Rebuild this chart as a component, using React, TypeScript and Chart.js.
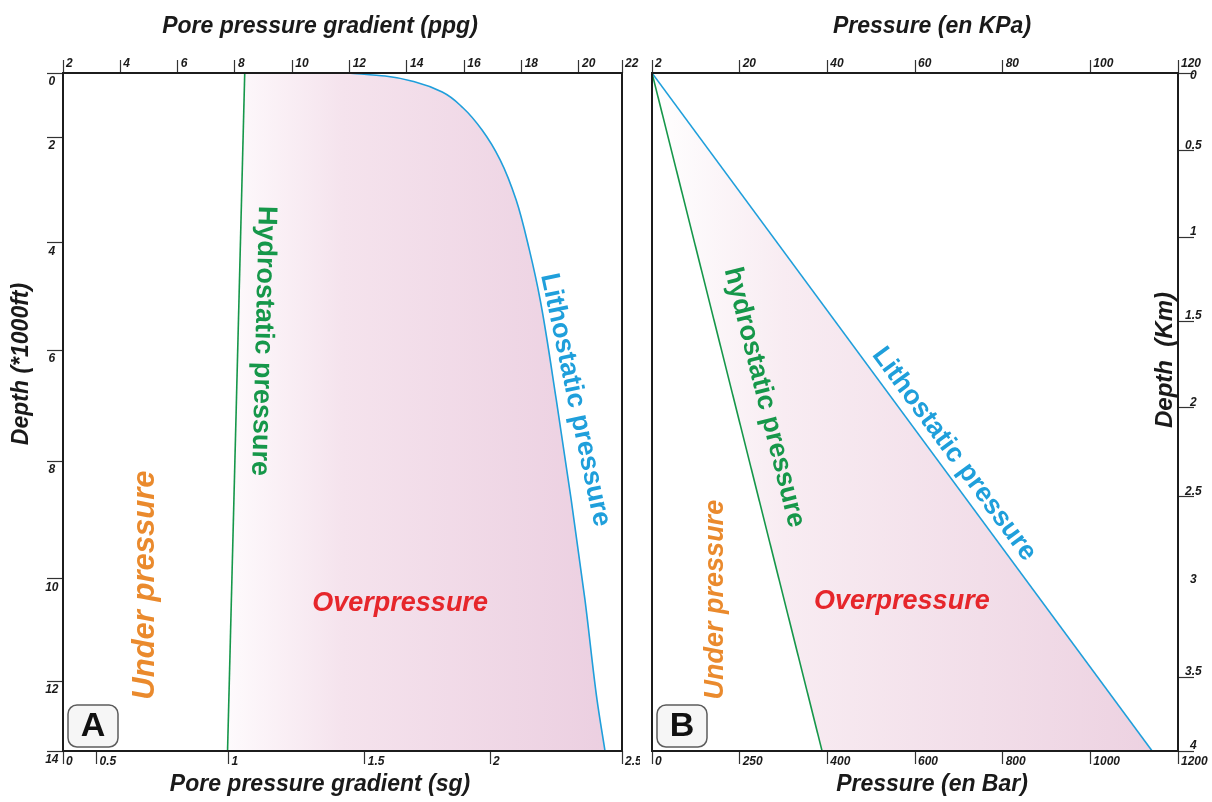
import React, { useEffect, useRef } from 'react';
import { Chart, registerables, LinearScale } from 'chart.js';

Chart.register(...registerables);

// ---------------- data: panel A (pore pressure gradient vs depth) ----------------
const lithoDepthKft = [0, 0.094, 0.281, 0.594, 1.094, 1.781, 2.43, 3.19, 4.13, 5.07, 6.9, 8.66, 10.41, 12.54, 14];
const lithostaticPpg = [11.95, 13.24, 14.29, 15.23, 15.96, 16.62, 17.25, 17.81, 18.27, 18.65, 19.21, 19.73, 20.28, 20.84, 21.21];
const hydroDepthKft = [0, 14];
const hydrostaticPpg = [8.34, 7.74];

const ppgTicks = [2, 4, 6, 8, 10, 12, 14, 16, 18, 20, 22];
const ppgTickLabels = ['2', '4', '6', '8', '10', '12', '14', '16', '18', '20', '22'];
const sgTicks = [0, 0.5, 1, 1.5, 2, 2.5];
const sgTickLabels = ['0', '0.5', '1', '1.5', '2', '2.5'];
const depthKftTicks = [0, 2, 4, 6, 8, 10, 12, 14];
const depthKftTickLabels = ['0', '2', '4', '6', '8', '10', '12', '14'];

// ---------------- data: panel B (pressure vs depth) ----------------
const depthKm = [0, 4];
const hydrostaticBar = [0, 391];
const lithostaticBar = [0, 1141];

const kpaTicks = [0, 20, 40, 60, 80, 100, 120];
const kpaTickLabels = ['2', '20', '40', '60', '80', '100', '120'];
const barTicks = [0, 250, 400, 600, 800, 1000, 1200];
const barTickLabels = ['0', '250', '400', '600', '800', '1000', '1200'];
const depthKmTicks = [0, 0.5, 1, 1.5, 2, 2.5, 3, 3.5, 4];
const depthKmTickLabels = ['0', '0.5', '1', '1.5', '2', '2.5', '3', '3.5', '4'];
const depthKmUnmarked = [3];

// ---------------- printed (non-linear) axis geometry: [value, fraction of axis] ----------------
const ppgAxisBreaks = [[2, 0], [20, 0.923], [22, 1]];
const sgAxisBreaks = [[0, 0], [0.5, 0.06], [1, 0.296], [1.5, 0.54], [2, 0.764], [2.5, 1]];
const kftAxisBreaks = [[0, 0], [2, 0.0944], [4, 0.2507], [6, 0.4086], [8, 0.5723], [10, 0.7463], [12, 0.8968], [14, 1]];
const barAxisBreaks = [[0, 0], [250, 1 / 6], [400, 2 / 6], [600, 3 / 6], [800, 4 / 6], [1000, 5 / 6], [1200, 1]];
const kmAxisBreaks = [[0, 0], [0.5, 0.115], [1, 0.242], [1.5, 0.366], [2, 0.494], [2.5, 0.625], [3, 0.755], [3.5, 0.891], [4, 1]];

// ---------------- colours / fonts ----------------
const GREEN = '#16974a';
const BLUE = '#1f9fdb';
const ORANGE = '#ea8a2d';
const RED = '#e6262b';
const INK = '#1a1a1a';
const SANS = "'Liberation Sans', Arial, sans-serif";
const NARROW = "'Liberation Sans Narrow', 'Liberation Sans', Arial, sans-serif";
const TICK_FONT = { family: NARROW, size: 12, weight: 'bold', style: 'italic' };
const TITLE_FONT = { family: SANS, size: 23, weight: 'bold', style: 'italic', lineHeight: 1 };

// ---------------- annotations (data coordinates) ----------------
const annotationsA = [
  { text: 'Hydrostatic pressure', x: 8.98, y: 5.83, alongDataset: 0, size: 27, italic: false, color: GREEN },
  { text: 'Lithostatic pressure', x: 19.87, y: 6.9, angle: 78, size: 27, italic: false, color: BLUE },
  { text: 'Under pressure', x: 4.86, y: 10.12, angle: -90, size: 31, italic: true, color: ORANGE },
  { text: 'Overpressure', x: 13.76, y: 10.49, angle: 0, size: 27, italic: true, color: RED },
];
const annotationsB = [
  { text: 'hydrostatic pressure', x: 292, y: 1.94, alongDataset: 0, size: 27, italic: false, color: GREEN },
  { text: 'Lithostatic pressure', x: 689, y: 2.26, alongDataset: 1, size: 27, italic: false, color: BLUE },
  { text: 'Under pressure', x: 180, y: 3.08, angle: -90, size: 27, italic: true, color: ORANGE },
  { text: 'Overpressure', x: 570, y: 3.09, angle: 0, size: 27, italic: true, color: RED },
];

// ---------------- piecewise-linear scale for the printed non-uniform axes ----------------
class PiecewiseScale extends LinearScale {
  static id = 'piecewise';
  static defaults = {};
  _frac(v: number): number {
    const br = (this as any).$breaks as number[][];
    if (!br) return (v - (this as any).min) / ((this as any).max - (this as any).min);
    let i = 1;
    while (i < br.length - 1 && v > br[i][0]) i++;
    const [v0, f0] = br[i - 1];
    const [v1, f1] = br[i];
    return f0 + ((v - v0) / (v1 - v0)) * (f1 - f0);
  }
  getPixelForValue(value: number) {
    if (value === null || value === undefined || Number.isNaN(value)) return NaN;
    return (this as any).getPixelForDecimal(this._frac(value));
  }
  getValueForPixel(pixel: number) {
    const d = (this as any).getDecimalForPixel(pixel);
    const br = (this as any).$breaks as number[][];
    if (!br) return super.getValueForPixel(pixel);
    let i = 1;
    while (i < br.length - 1 && d > br[i][1]) i++;
    const [v0, f0] = br[i - 1];
    const [v1, f1] = br[i];
    return v0 + ((d - f0) / (f1 - f0)) * (v1 - v0);
  }
}
Chart.register(PiecewiseScale as any);

function makeAxis(c: any) {
  const horizontal = c.axis === 'x';
  const hidden: number[] = c.unmarked || [];
  return {
    type: c.breaks ? 'piecewise' : 'linear',
    axis: c.axis,
    position: c.position,
    min: c.min,
    max: c.max,
    reverse: !!c.reverse,
    beforeUpdate: (s: any) => {
      s.$breaks = c.breaks;
    },
    afterBuildTicks: (s: any) => {
      s.ticks = c.values.map((v: number) => ({ value: v }));
    },
    afterFit: (s: any) => {
      if (horizontal) s.height = c.size;
      else s.width = c.size;
      s.paddingLeft = 0;
      s.paddingRight = 0;
      s.paddingTop = 0;
      s.paddingBottom = 0;
    },
    border: { display: false },
    grid: {
      display: true,
      drawOnChartArea: false,
      drawTicks: true,
      tickLength: c.tickLength,
      tickWidth: 1.2,
      tickColor: (ctx: any) => (ctx.tick && hidden.includes(ctx.tick.value) ? 'rgba(0,0,0,0)' : '#333'),
    },
    ticks: {
      display: true,
      autoSkip: false,
      maxRotation: 0,
      minRotation: 0,
      padding: c.padding,
      labelOffset: c.labelOffset || 0,
      align: c.align || 'center',
      crossAlign: c.crossAlign || 'near',
      font: TICK_FONT,
      color: INK,
      callback: (_v: any, i: number) => (c.format ? c.format(c.labels[i], i) : c.labels[i]),
    },
    title: { display: false },
  };
}

function spacerAxis(position: string, width: number) {
  return {
    type: 'linear',
    axis: 'y',
    position,
    min: 0,
    max: 1,
    display: true,
    border: { display: false },
    grid: { display: false },
    ticks: { display: false },
    afterFit: (s: any) => {
      s.width = width;
      s.paddingTop = 0;
      s.paddingBottom = 0;
    },
  };
}

function fillGradient(stops: [number, string][]) {
  return (c: any) => {
    const chart = c.chart;
    const a = chart.chartArea;
    if (!a) return 'rgba(0,0,0,0)';
    const g = chart.ctx.createLinearGradient(a.left, 0, a.right, 0);
    stops.forEach(([o, col]) => g.addColorStop(o, col));
    return g;
  };
}

function drawRotatedText(ctx: CanvasRenderingContext2D, text: string, x: number, y: number, angle: number, font: string, color: string) {
  ctx.save();
  ctx.translate(x, y);
  ctx.rotate(angle);
  ctx.font = font;
  ctx.fillStyle = color;
  ctx.textAlign = 'center';
  ctx.textBaseline = 'middle';
  ctx.fillText(text, 0, 0);
  ctx.restore();
}

function decorPlugin(o: any) {
  return {
    id: 'panelDecor',
    afterDatasetsDraw(chart: any) {
      const { ctx, chartArea: a } = chart;
      const xs = chart.scales[o.xScale];
      const ys = chart.scales[o.yScale];
      ctx.save();
      // frame
      ctx.strokeStyle = '#1c1c1c';
      ctx.lineWidth = 2;
      ctx.strokeRect(a.left, a.top, a.right - a.left, a.bottom - a.top);
      // in-plot labels
      o.annotations.forEach((an: any) => {
        let angle = ((an.angle || 0) * Math.PI) / 180;
        if (an.alongDataset !== undefined) {
          const pts = chart.getDatasetMeta(an.alongDataset).data;
          const p0 = pts[0];
          const p1 = pts[pts.length - 1];
          angle = Math.atan2(p1.y - p0.y, p1.x - p0.x);
        }
        const font = `${an.italic ? 'italic ' : ''}bold ${an.size}px ${SANS}`;
        drawRotatedText(ctx, an.text, xs.getPixelForValue(an.x), ys.getPixelForValue(an.y), angle, font, an.color);
      });
      // vertical axis title
      const t = o.sideTitle;
      drawRotatedText(
        ctx,
        t.text,
        t.side === 'left' ? a.left + t.dx : a.right + t.dx,
        a.top + t.dy,
        -Math.PI / 2,
        `italic bold ${t.size}px ${SANS}`,
        INK
      );
      // panel letter
      const bx = a.left + 5;
      const by = a.bottom - 46;
      ctx.beginPath();
      (ctx as any).roundRect(bx, by, 50, 42, 9);
      ctx.fillStyle = '#f6f6f6';
      ctx.fill();
      ctx.lineWidth = 1.5;
      ctx.strokeStyle = '#5c5c5c';
      ctx.stroke();
      ctx.fillStyle = '#111';
      ctx.font = `bold 34px ${SANS}`;
      ctx.textAlign = 'center';
      ctx.textBaseline = 'middle';
      ctx.fillText(o.letter, bx + 25, by + 22);
      ctx.restore();
    },
  };
}

function baseOptions(top: string, bottom: string) {
  return {
    responsive: false,
    maintainAspectRatio: false,
    animation: false,
    indexAxis: 'y',
    events: [],
    plugins: {
      legend: { display: false },
      tooltip: { enabled: false },
      title: { display: true, text: top, position: 'top', font: TITLE_FONT, color: INK, padding: { top: 15.5, bottom: 0 } },
      subtitle: { display: true, text: bottom, position: 'bottom', font: TITLE_FONT, color: INK, padding: { top: 0, bottom: 5.5 } },
    },
  };
}

function buildA(): any {
  return {
    type: 'line',
    data: {
      datasets: [
        {
          label: 'Hydrostatic pressure',
          data: hydroDepthKft.map((d, i) => ({ x: hydrostaticPpg[i], y: d })),
          xAxisID: 'x',
          yAxisID: 'y',
          borderColor: GREEN,
          borderWidth: 1.6,
          pointRadius: 0,
          fill: false,
        },
        {
          label: 'Lithostatic pressure',
          data: lithoDepthKft.map((d, i) => ({ x: lithostaticPpg[i], y: d })),
          xAxisID: 'x',
          yAxisID: 'y',
          borderColor: BLUE,
          borderWidth: 1.6,
          pointRadius: 0,
          cubicInterpolationMode: 'monotone',
          fill: 0,
          backgroundColor: fillGradient([[0, '#ffffff'], [0.29, '#fefbfd'], [0.5, '#f5e3ed'], [1, '#ebcee0']]),
        },
      ],
    },
    options: {
      ...baseOptions('Pore pressure gradient (ppg)', 'Pore pressure gradient (sg)'),
      layout: { padding: 0 },
      scales: {
        x: makeAxis({ axis: 'x', position: 'top', min: 2, max: 22, breaks: ppgAxisBreaks, values: ppgTicks, labels: ppgTickLabels, size: 34.5, tickLength: 13, padding: -11, labelOffset: 3, align: 'start' }),
        x2: makeAxis({ axis: 'x', position: 'bottom', min: 0, max: 2.5, breaks: sgAxisBreaks, values: sgTicks, labels: sgTickLabels, size: 22.5, tickLength: 13, padding: -10, labelOffset: 3, align: 'start' }),
        y: makeAxis({ axis: 'y', position: 'left', min: 0, max: 14, reverse: true, breaks: kftAxisBreaks, values: depthKftTicks, labels: depthKftTickLabels, size: 63, tickLength: 16, padding: -11.5, labelOffset: 9, crossAlign: 'center' }),
        yr: spacerAxis('right', 18),
      },
    },
    plugins: [
      decorPlugin({
        xScale: 'x',
        yScale: 'y',
        annotations: annotationsA,
        letter: 'A',
        sideTitle: { text: 'Depth (*1000ft)', side: 'left', dx: -41, dy: 291, size: 23 },
      }),
    ],
  };
}

function buildB(): any {
  return {
    type: 'line',
    data: {
      datasets: [
        {
          label: 'hydrostatic pressure',
          data: depthKm.map((d, i) => ({ x: hydrostaticBar[i], y: d })),
          xAxisID: 'x2',
          yAxisID: 'y',
          borderColor: GREEN,
          borderWidth: 1.6,
          pointRadius: 0,
          fill: false,
        },
        {
          label: 'Lithostatic pressure',
          data: depthKm.map((d, i) => ({ x: lithostaticBar[i], y: d })),
          xAxisID: 'x2',
          yAxisID: 'y',
          borderColor: BLUE,
          borderWidth: 1.6,
          pointRadius: 0,
          fill: 0,
          backgroundColor: fillGradient([[0, '#ffffff'], [0.25, '#f8ecf2'], [1, '#ecd0e0']]),
        },
      ],
    },
    options: {
      ...baseOptions('Pressure (en KPa)', 'Pressure (en Bar)'),
      layout: { padding: { left: 2, right: 0, top: 0, bottom: 0 } },
      scales: {
        x: makeAxis({ axis: 'x', position: 'top', min: 0, max: 120, values: kpaTicks, labels: kpaTickLabels, size: 34.5, tickLength: 13, padding: -11, labelOffset: 3, align: 'start' }),
        x2: makeAxis({ axis: 'x', position: 'bottom', min: 0, max: 1200, breaks: barAxisBreaks, values: barTicks, labels: barTickLabels, size: 22.5, tickLength: 13, padding: -10, labelOffset: 3, align: 'start' }),
        y: makeAxis({
          axis: 'y', position: 'right', min: 0, max: 4, reverse: true, breaks: kmAxisBreaks, values: depthKmTicks, labels: depthKmTickLabels,
          unmarked: depthKmUnmarked, size: 34, tickLength: 16, padding: -9, labelOffset: -5, crossAlign: 'center',
          format: (l: string, i: number) => (i === 0 ? ['', l] : l),
        }),
      },
    },
    plugins: [
      decorPlugin({
        xScale: 'x2',
        yScale: 'y',
        annotations: annotationsB,
        letter: 'B',
        sideTitle: { text: 'Depth  (Km)', side: 'right', dx: -13, dy: 287, size: 24 },
      }),
    ],
  };
}

function Panel({ left, width, build }: { left: number; width: number; build: () => any }) {
  const ref = useRef<HTMLCanvasElement>(null);
  useEffect(() => {
    if (!ref.current) return;
    const chart = new Chart(ref.current, build());
    return () => chart.destroy();
  }, [build]);
  return (
    <canvas
      ref={ref}
      width={width}
      height={802}
      style={{ position: 'absolute', left, top: 0, width, height: 802, display: 'block' }}
    />
  );
}

export default function App() {
  return (
    <div style={{ position: 'absolute', left: 0, top: 0, width: 1212, height: 802, background: '#ffffff', overflow: 'hidden' }}>
      <Panel left={0} width={640} build={buildA} />
      <Panel left={650} width={562} build={buildB} />
    </div>
  );
}
